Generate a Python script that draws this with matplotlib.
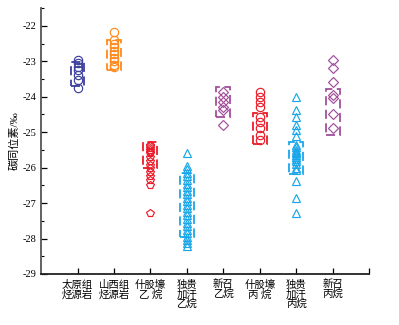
import matplotlib.pyplot as plt
from matplotlib.patches import Rectangle

plt.rcParams['font.family'] = ['Liberation Serif', 'Noto Sans CJK SC']
plt.rcParams['axes.unicode_minus'] = False

# category labels along the x axis
labels = ['太原组\n烃源岩', '山西组\n烃源岩', '什股壕\n乙 烷', '独贵\n加汗\n乙烷',
          '新召\n乙烷', '什股壕\n丙 烷', '独贵\n加汗\n丙烷', '新召\n丙烷']

# carbon isotope values (permil), one list per group
taiyuan = [-22.95, -23.05, -23.15, -23.24, -23.38, -23.52, -23.75]
shanxi = [-22.18, -22.4, -22.5, -22.6, -22.7, -22.8, -22.9, -23.0, -23.1, -23.15]
sgh_ethane = [-25.35, -25.4, -25.45, -25.5, -25.55, -25.6, -25.7, -25.8, -25.92,
              -26.0, -26.11, -26.25, -26.34, -26.48, -27.27]
dgjh_ethane = [-25.6, -25.94, -26.05, -26.15, -26.25, -26.35, -26.45, -26.55, -26.65,
               -26.75, -26.85, -26.95, -27.05, -27.15, -27.25, -27.35, -27.45, -27.55,
               -27.65, -27.75, -27.85, -27.95, -28.05, -28.12, -28.22]
xz_ethane = [-23.86, -24.0, -24.14, -24.28, -24.37, -24.79]
sgh_propane = [-23.86, -24.0, -24.14, -24.28, -24.56, -24.7, -24.87, -25.07, -25.21]
dgjh_propane = [-24.0, -24.37, -24.56, -24.79, -24.93, -25.1, -25.35, -25.42, -25.5,
                -25.55, -25.6, -25.65, -25.7, -25.75, -25.8, -25.9, -26.0, -26.06,
                -26.39, -26.87, -27.27]
xz_propane = [-22.97, -23.2, -23.58, -23.94, -24.03, -24.5, -24.88]

groups = [taiyuan, shanxi, sgh_ethane, dgjh_ethane, xz_ethane, sgh_propane,
          dgjh_propane, xz_propane]

# dashed box ranges (top, bottom)
box_top = [-23.01, -22.39, -25.27, -26.14, -23.72, -24.45, -25.27, -23.78]
box_bottom = [-23.69, -23.24, -26.0, -27.97, -24.56, -25.32, -26.17, -25.07]

colors = ['#3b3f9c', '#ff8a1c', '#ec1c2a', '#1aa7ea', '#a24e9c', '#ec1c2a',
          '#1aa7ea', '#a24e9c']
markers = ['o', 'o', 'p', '^', 'D', 'o', '^', 'D']
sizes = [6, 6, 6, 6, 4.8, 6, 6, 4.8]

fig = plt.figure(figsize=(3.99, 3.25), dpi=100)
ax = fig.add_axes([0.103, 0.157, 0.822, 0.818])

for i in range(len(groups)):
    xpos = i + 1
    ax.plot([xpos] * len(groups[i]), groups[i], linestyle='none', marker=markers[i],
            markersize=sizes[i], markerfacecolor='none', markeredgecolor=colors[i],
            markeredgewidth=0.85, zorder=2)
    rect = Rectangle((xpos - 0.19, box_bottom[i]), 0.38, box_top[i] - box_bottom[i],
                     fill=False, edgecolor=colors[i], linewidth=1.3,
                     linestyle=(0, (5, 2.5)), zorder=3)
    ax.add_patch(rect)

ax.set_xlim(0, 9)
ax.set_ylim(-29, -21.5)
ax.set_xticks(range(1, 10))
ax.set_xticklabels(labels + [''], fontsize=7.5, linespacing=0.95)
ax.set_yticks(range(-29, -21))
ax.set_yticks([-28.5, -27.5, -26.5, -25.5, -24.5, -23.5, -22.5, -21.5], minor=True)
ax.tick_params(axis='both', direction='in', length=4, width=0.9, labelsize=7.5)
ax.tick_params(axis='y', which='minor', direction='in', length=2.5, width=0.8)
ax.tick_params(axis='x', pad=4)

ax.spines['top'].set_visible(False)
ax.spines['right'].set_visible(False)
ax.spines['left'].set_color('#555555')
ax.spines['left'].set_linewidth(1.3)
ax.spines['bottom'].set_color('#222222')
ax.spines['bottom'].set_linewidth(1.3)

ax.set_ylabel('碳同位素/‰', fontsize=8, labelpad=2)

fig.savefig('out.png', dpi=100)
